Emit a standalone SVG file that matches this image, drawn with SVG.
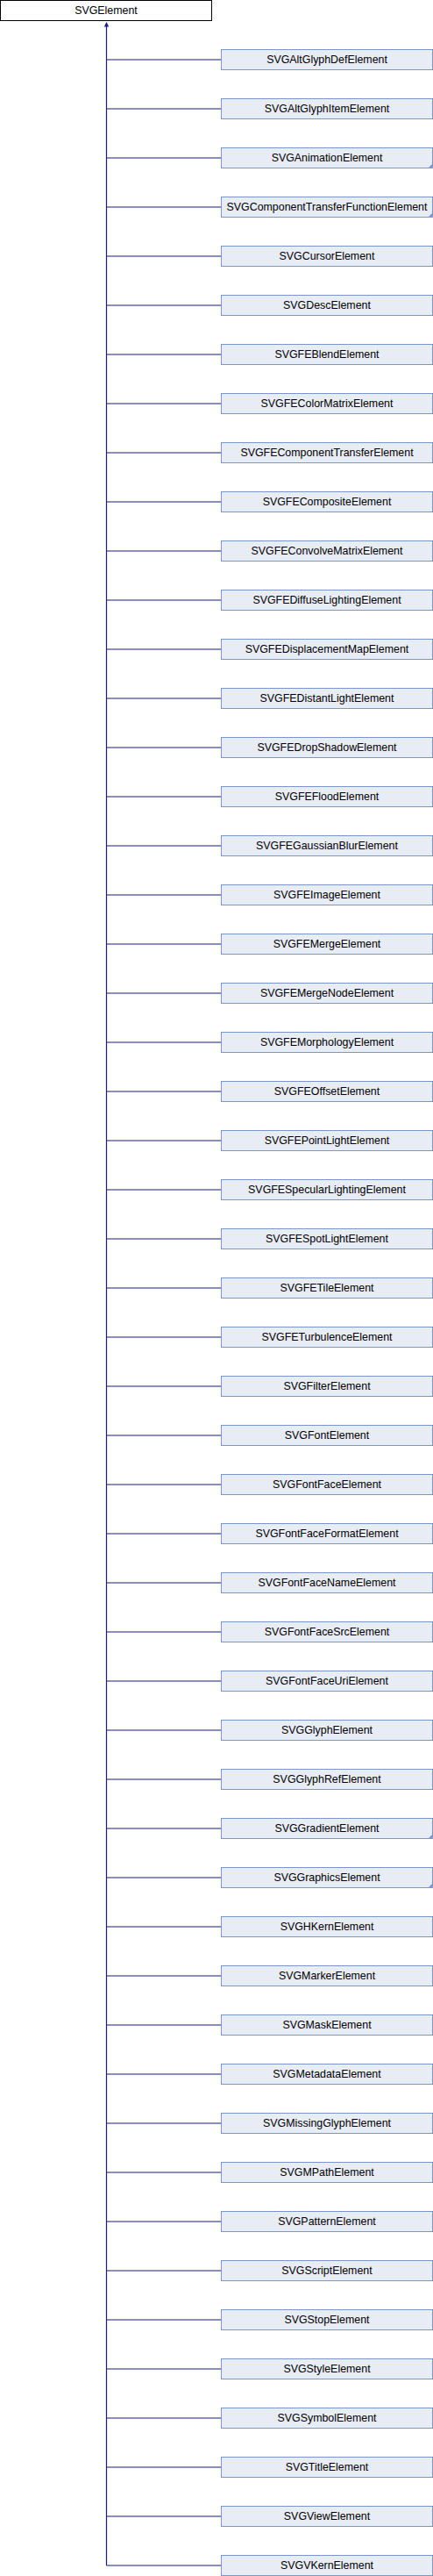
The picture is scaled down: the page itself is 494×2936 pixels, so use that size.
<svg xmlns="http://www.w3.org/2000/svg" width="494" height="2936" viewBox="0 0 494 2936">
<style>
.n rect{fill:#e8ecf5;stroke:#7b96cc;stroke-width:1}
.r rect{fill:#ffffff;stroke:#000000;stroke-width:1}
text{font-family:"Liberation Sans",Arial,sans-serif;font-size:12.4px;fill:#000000;text-anchor:middle}
.c{fill:#7b96cc}
.e{stroke:#1a1a8c;stroke-width:1.2;fill:none}
.a{fill:#1a1a8c}
</style>
<rect width="494" height="2936" fill="#ffffff"/>
<g id="connectors">
<path class="e" d="M121.5 30V2924"/>
<polygon class="a" points="121.5,25 118.8,30.5 124.2,30.5"/>
<path class="e" d="M121.5 68H252.5M121.5 124H252.5M121.5 180H252.5M121.5 236H252.5M121.5 292H252.5M121.5 348H252.5M121.5 404H252.5M121.5 460H252.5M121.5 516H252.5M121.5 572H252.5M121.5 628H252.5M121.5 684H252.5M121.5 740H252.5M121.5 796H252.5M121.5 852H252.5M121.5 908H252.5M121.5 964H252.5M121.5 1020H252.5M121.5 1076H252.5M121.5 1132H252.5M121.5 1188H252.5M121.5 1244H252.5M121.5 1300H252.5M121.5 1356H252.5M121.5 1412H252.5M121.5 1468H252.5M121.5 1524H252.5M121.5 1580H252.5M121.5 1636H252.5M121.5 1692H252.5M121.5 1748H252.5M121.5 1804H252.5M121.5 1860H252.5M121.5 1916H252.5M121.5 1972H252.5M121.5 2028H252.5M121.5 2084H252.5M121.5 2140H252.5M121.5 2196H252.5M121.5 2252H252.5M121.5 2308H252.5M121.5 2364H252.5M121.5 2420H252.5M121.5 2476H252.5M121.5 2532H252.5M121.5 2588H252.5M121.5 2644H252.5M121.5 2700H252.5M121.5 2756H252.5M121.5 2812H252.5M121.5 2868H252.5M121.5 2924H252.5"/>
</g>
<g id="SVGElement" class="r"><rect x="0.5" y="0.5" width="241" height="23"/><text x="121" y="16">SVGElement</text></g>
<g id="SVGAltGlyphDefElement" class="n"><rect x="252.5" y="56.5" width="241" height="23"/><text x="373" y="72">SVGAltGlyphDefElement</text></g>
<g id="SVGAltGlyphItemElement" class="n"><rect x="252.5" y="112.5" width="241" height="23"/><text x="373" y="128">SVGAltGlyphItemElement</text></g>
<g id="SVGAnimationElement" class="n"><rect x="252.5" y="168.5" width="241" height="23"/><polygon class="c" points="488,192 494,186 494,192"/><text x="373" y="184">SVGAnimationElement</text></g>
<g id="SVGComponentTransferFunctionElement" class="n"><rect x="252.5" y="224.5" width="241" height="23"/><polygon class="c" points="488,248 494,242 494,248"/><text x="373" y="240">SVGComponentTransferFunctionElement</text></g>
<g id="SVGCursorElement" class="n"><rect x="252.5" y="280.5" width="241" height="23"/><text x="373" y="296">SVGCursorElement</text></g>
<g id="SVGDescElement" class="n"><rect x="252.5" y="336.5" width="241" height="23"/><text x="373" y="352">SVGDescElement</text></g>
<g id="SVGFEBlendElement" class="n"><rect x="252.5" y="392.5" width="241" height="23"/><text x="373" y="408">SVGFEBlendElement</text></g>
<g id="SVGFEColorMatrixElement" class="n"><rect x="252.5" y="448.5" width="241" height="23"/><text x="373" y="464">SVGFEColorMatrixElement</text></g>
<g id="SVGFEComponentTransferElement" class="n"><rect x="252.5" y="504.5" width="241" height="23"/><text x="373" y="520">SVGFEComponentTransferElement</text></g>
<g id="SVGFECompositeElement" class="n"><rect x="252.5" y="560.5" width="241" height="23"/><text x="373" y="576">SVGFECompositeElement</text></g>
<g id="SVGFEConvolveMatrixElement" class="n"><rect x="252.5" y="616.5" width="241" height="23"/><text x="373" y="632">SVGFEConvolveMatrixElement</text></g>
<g id="SVGFEDiffuseLightingElement" class="n"><rect x="252.5" y="672.5" width="241" height="23"/><text x="373" y="688">SVGFEDiffuseLightingElement</text></g>
<g id="SVGFEDisplacementMapElement" class="n"><rect x="252.5" y="728.5" width="241" height="23"/><text x="373" y="744">SVGFEDisplacementMapElement</text></g>
<g id="SVGFEDistantLightElement" class="n"><rect x="252.5" y="784.5" width="241" height="23"/><text x="373" y="800">SVGFEDistantLightElement</text></g>
<g id="SVGFEDropShadowElement" class="n"><rect x="252.5" y="840.5" width="241" height="23"/><text x="373" y="856">SVGFEDropShadowElement</text></g>
<g id="SVGFEFloodElement" class="n"><rect x="252.5" y="896.5" width="241" height="23"/><text x="373" y="912">SVGFEFloodElement</text></g>
<g id="SVGFEGaussianBlurElement" class="n"><rect x="252.5" y="952.5" width="241" height="23"/><text x="373" y="968">SVGFEGaussianBlurElement</text></g>
<g id="SVGFEImageElement" class="n"><rect x="252.5" y="1008.5" width="241" height="23"/><text x="373" y="1024">SVGFEImageElement</text></g>
<g id="SVGFEMergeElement" class="n"><rect x="252.5" y="1064.5" width="241" height="23"/><text x="373" y="1080">SVGFEMergeElement</text></g>
<g id="SVGFEMergeNodeElement" class="n"><rect x="252.5" y="1120.5" width="241" height="23"/><text x="373" y="1136">SVGFEMergeNodeElement</text></g>
<g id="SVGFEMorphologyElement" class="n"><rect x="252.5" y="1176.5" width="241" height="23"/><text x="373" y="1192">SVGFEMorphologyElement</text></g>
<g id="SVGFEOffsetElement" class="n"><rect x="252.5" y="1232.5" width="241" height="23"/><text x="373" y="1248">SVGFEOffsetElement</text></g>
<g id="SVGFEPointLightElement" class="n"><rect x="252.5" y="1288.5" width="241" height="23"/><text x="373" y="1304">SVGFEPointLightElement</text></g>
<g id="SVGFESpecularLightingElement" class="n"><rect x="252.5" y="1344.5" width="241" height="23"/><text x="373" y="1360">SVGFESpecularLightingElement</text></g>
<g id="SVGFESpotLightElement" class="n"><rect x="252.5" y="1400.5" width="241" height="23"/><text x="373" y="1416">SVGFESpotLightElement</text></g>
<g id="SVGFETileElement" class="n"><rect x="252.5" y="1456.5" width="241" height="23"/><text x="373" y="1472">SVGFETileElement</text></g>
<g id="SVGFETurbulenceElement" class="n"><rect x="252.5" y="1512.5" width="241" height="23"/><text x="373" y="1528">SVGFETurbulenceElement</text></g>
<g id="SVGFilterElement" class="n"><rect x="252.5" y="1568.5" width="241" height="23"/><text x="373" y="1584">SVGFilterElement</text></g>
<g id="SVGFontElement" class="n"><rect x="252.5" y="1624.5" width="241" height="23"/><text x="373" y="1640">SVGFontElement</text></g>
<g id="SVGFontFaceElement" class="n"><rect x="252.5" y="1680.5" width="241" height="23"/><text x="373" y="1696">SVGFontFaceElement</text></g>
<g id="SVGFontFaceFormatElement" class="n"><rect x="252.5" y="1736.5" width="241" height="23"/><text x="373" y="1752">SVGFontFaceFormatElement</text></g>
<g id="SVGFontFaceNameElement" class="n"><rect x="252.5" y="1792.5" width="241" height="23"/><text x="373" y="1808">SVGFontFaceNameElement</text></g>
<g id="SVGFontFaceSrcElement" class="n"><rect x="252.5" y="1848.5" width="241" height="23"/><text x="373" y="1864">SVGFontFaceSrcElement</text></g>
<g id="SVGFontFaceUriElement" class="n"><rect x="252.5" y="1904.5" width="241" height="23"/><text x="373" y="1920">SVGFontFaceUriElement</text></g>
<g id="SVGGlyphElement" class="n"><rect x="252.5" y="1960.5" width="241" height="23"/><text x="373" y="1976">SVGGlyphElement</text></g>
<g id="SVGGlyphRefElement" class="n"><rect x="252.5" y="2016.5" width="241" height="23"/><text x="373" y="2032">SVGGlyphRefElement</text></g>
<g id="SVGGradientElement" class="n"><rect x="252.5" y="2072.5" width="241" height="23"/><polygon class="c" points="488,2096 494,2090 494,2096"/><text x="373" y="2088">SVGGradientElement</text></g>
<g id="SVGGraphicsElement" class="n"><rect x="252.5" y="2128.5" width="241" height="23"/><polygon class="c" points="488,2152 494,2146 494,2152"/><text x="373" y="2144">SVGGraphicsElement</text></g>
<g id="SVGHKernElement" class="n"><rect x="252.5" y="2184.5" width="241" height="23"/><text x="373" y="2200">SVGHKernElement</text></g>
<g id="SVGMarkerElement" class="n"><rect x="252.5" y="2240.5" width="241" height="23"/><text x="373" y="2256">SVGMarkerElement</text></g>
<g id="SVGMaskElement" class="n"><rect x="252.5" y="2296.5" width="241" height="23"/><text x="373" y="2312">SVGMaskElement</text></g>
<g id="SVGMetadataElement" class="n"><rect x="252.5" y="2352.5" width="241" height="23"/><text x="373" y="2368">SVGMetadataElement</text></g>
<g id="SVGMissingGlyphElement" class="n"><rect x="252.5" y="2408.5" width="241" height="23"/><text x="373" y="2424">SVGMissingGlyphElement</text></g>
<g id="SVGMPathElement" class="n"><rect x="252.5" y="2464.5" width="241" height="23"/><text x="373" y="2480">SVGMPathElement</text></g>
<g id="SVGPatternElement" class="n"><rect x="252.5" y="2520.5" width="241" height="23"/><text x="373" y="2536">SVGPatternElement</text></g>
<g id="SVGScriptElement" class="n"><rect x="252.5" y="2576.5" width="241" height="23"/><text x="373" y="2592">SVGScriptElement</text></g>
<g id="SVGStopElement" class="n"><rect x="252.5" y="2632.5" width="241" height="23"/><text x="373" y="2648">SVGStopElement</text></g>
<g id="SVGStyleElement" class="n"><rect x="252.5" y="2688.5" width="241" height="23"/><text x="373" y="2704">SVGStyleElement</text></g>
<g id="SVGSymbolElement" class="n"><rect x="252.5" y="2744.5" width="241" height="23"/><text x="373" y="2760">SVGSymbolElement</text></g>
<g id="SVGTitleElement" class="n"><rect x="252.5" y="2800.5" width="241" height="23"/><text x="373" y="2816">SVGTitleElement</text></g>
<g id="SVGViewElement" class="n"><rect x="252.5" y="2856.5" width="241" height="23"/><text x="373" y="2872">SVGViewElement</text></g>
<g id="SVGVKernElement" class="n"><rect x="252.5" y="2912.5" width="241" height="23"/><text x="373" y="2928">SVGVKernElement</text></g>
</svg>
